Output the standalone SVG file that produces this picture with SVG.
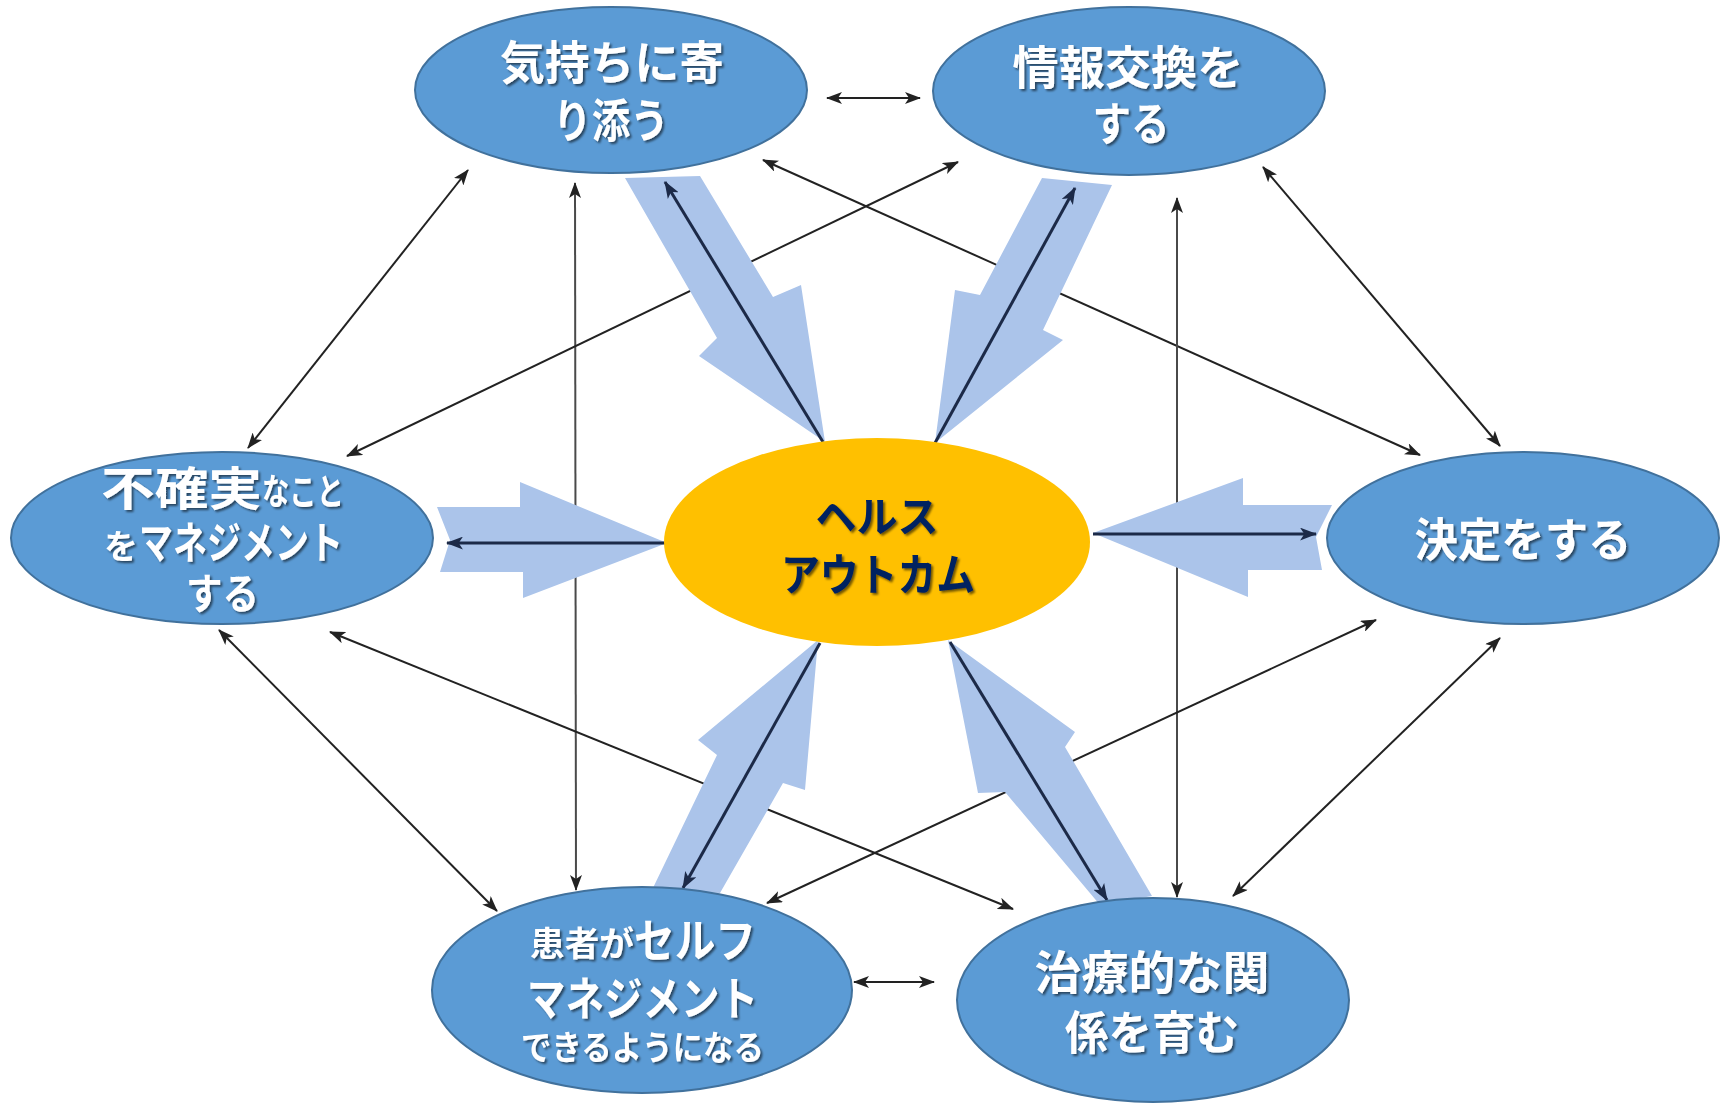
<svg xmlns="http://www.w3.org/2000/svg" width="1727" height="1104" viewBox="0 0 1727 1104">
<style>
.thin{fill:none;stroke:#222;stroke-width:2;marker-start:url(#ah);marker-end:url(#ah)}
.vert{stroke:#4a4a4a}
.nav{fill:none;stroke:#1c2a48;stroke-width:3;marker-end:url(#an)}
.big{fill:#abc4ea}
.node{fill:#5b9bd5;stroke:#41719c;stroke-width:2}
.ctr{fill:#ffc000}
.t{font-family:"Noto Sans CJK JP","Noto Sans",sans-serif;font-weight:700;fill:#fff;filter:url(#sh)}
.tc{font-family:"Noto Sans CJK JP","Noto Sans",sans-serif;font-weight:700;fill:#002060;filter:url(#sh)}
</style>
<defs>
<marker id="ah" viewBox="0 0 16 12" markerWidth="16" markerHeight="12" refX="15" refY="6" orient="auto-start-reverse" markerUnits="userSpaceOnUse"><path d="M0,0 L16,6 L0,12 L4,6 z" fill="#222"/></marker>
<marker id="an" viewBox="0 0 16 12" markerWidth="17" markerHeight="13" refX="15" refY="6" orient="auto" markerUnits="userSpaceOnUse"><path d="M0,0 L16,6 L0,12 L4,6 z" fill="#1c2a48"/></marker>
<filter id="sh" x="-10%" y="-20%" width="130%" height="150%"><feDropShadow dx="2" dy="2" stdDeviation="1.3" flood-color="#000" flood-opacity="0.55"/></filter>
</defs>
<rect width="1727" height="1104" fill="#fff"/>
<g id="connectors">
<g id="thin-lines">
<line class="thin" x1="827" y1="98" x2="920" y2="98"/>
<line class="thin" x1="468" y1="170" x2="248" y2="448"/>
<line class="thin vert" x1="575" y1="183" x2="576" y2="890"/>
<line class="thin" x1="763" y1="160" x2="1420" y2="455"/>
<line class="thin" x1="958" y1="162" x2="347" y2="456"/>
<line class="thin vert" x1="1177" y1="198" x2="1177" y2="897"/>
<line class="thin" x1="1263" y1="167" x2="1500" y2="446"/>
<line class="thin" x1="219" y1="630" x2="497" y2="911"/>
<line class="thin" x1="330" y1="632" x2="1013" y2="909"/>
<line class="thin" x1="1376" y1="620" x2="767" y2="903"/>
<line class="thin" x1="1500" y1="638" x2="1233" y2="896"/>
<line class="thin" x1="854" y1="982" x2="934" y2="982"/>
</g>
<g id="big-arrows">
<polygon class="big" points="625,178 717,338 699,356 825,442 801,285 773,297 700,176"/>
<polygon class="big" points="1042,178 980,295 955,290 935,443 1063,340 1043,330 1112,185"/>
<polygon class="big" points="437,507 520,507 520,482 667,543 523,598 523,572 440,572 450,540"/>
<polygon class="big" points="1332,505 1243,505 1243,478 1093,533 1248,597 1248,570 1322,570 1316,537"/>
<polygon class="big" points="818,640 698,740 717,755 652,890 720,893 783,783 805,790"/>
<polygon class="big" points="948,640 978,793 1005,792 1100,905 1152,896 1065,747 1075,732"/>
</g>
<g id="center-lines">
<line class="nav" x1="823" y1="442" x2="665" y2="182"/>
<line class="nav" x1="935" y1="443" x2="1075" y2="188"/>
<line class="nav" x1="667" y1="543" x2="447" y2="543"/>
<line class="nav" x1="1093" y1="534" x2="1316" y2="534"/>
<line class="nav" x1="820" y1="643" x2="683" y2="888"/>
<line class="nav" x1="950" y1="642" x2="1107" y2="900"/>
</g>
</g>
<g id="node-empathy">
<ellipse class="node" cx="611" cy="90" rx="196" ry="83"/>
<text class="t" font-size="46" text-anchor="middle"><tspan x="612" y="79" textLength="224" lengthAdjust="spacingAndGlyphs">気持ちに寄</tspan><tspan x="611" y="137" textLength="116" lengthAdjust="spacingAndGlyphs">り添う</tspan></text>
</g>
<g id="node-info">
<ellipse class="node" cx="1129" cy="91" rx="196" ry="84"/>
<text class="t" font-size="46" text-anchor="middle"><tspan x="1128" y="84" textLength="231" lengthAdjust="spacingAndGlyphs">情報交換を</tspan><tspan x="1131" y="140" textLength="77" lengthAdjust="spacingAndGlyphs">する</tspan></text>
</g>
<g id="node-uncertainty">
<ellipse class="node" cx="222" cy="538" rx="211" ry="86"/>
<text class="t"><tspan x="101" y="505" font-size="46" textLength="161" lengthAdjust="spacingAndGlyphs">不確実</tspan><tspan x="262" y="505" font-size="36" textLength="82" lengthAdjust="spacingAndGlyphs">なこと</tspan><tspan x="104" y="559" font-size="34">を</tspan><tspan x="139" y="559" font-size="44" textLength="204" lengthAdjust="spacingAndGlyphs">マネジメント</tspan><tspan x="186" y="609" font-size="42" textLength="73" lengthAdjust="spacingAndGlyphs">する</tspan></text>
</g>
<g id="node-decision">
<ellipse class="node" cx="1523" cy="538" rx="196" ry="86"/>
<text class="t" x="1523" y="556" font-size="46" text-anchor="middle" textLength="217" lengthAdjust="spacingAndGlyphs">決定をする</text>
</g>
<g id="node-selfmanage">
<ellipse class="node" cx="642" cy="990" rx="210" ry="103"/>
<text class="t"><tspan x="530" y="956" font-size="34" textLength="104" lengthAdjust="spacingAndGlyphs">患者が</tspan><tspan x="634" y="957" font-size="46" textLength="122" lengthAdjust="spacingAndGlyphs">セルフ</tspan><tspan x="527" y="1015" font-size="46" textLength="231" lengthAdjust="spacingAndGlyphs">マネジメント</tspan><tspan x="521" y="1060" font-size="34" textLength="243" lengthAdjust="spacingAndGlyphs">できるようになる</tspan></text>
</g>
<g id="node-relationship">
<ellipse class="node" cx="1153" cy="1000" rx="196" ry="102"/>
<text class="t" font-size="46" text-anchor="middle"><tspan x="1152" y="989" textLength="235" lengthAdjust="spacingAndGlyphs">治療的な関</tspan><tspan x="1152" y="1049" textLength="174" lengthAdjust="spacingAndGlyphs">係を育む</tspan></text>
</g>
<g id="node-outcome">
<ellipse class="ctr" cx="877" cy="542" rx="213" ry="104"/>
<text class="tc" text-anchor="middle"><tspan x="877" y="532" font-size="42" textLength="123" lengthAdjust="spacingAndGlyphs">ヘルス</tspan><tspan x="878" y="591" font-size="44" textLength="194" lengthAdjust="spacingAndGlyphs">アウトカム</tspan></text>
</g>
</svg>
